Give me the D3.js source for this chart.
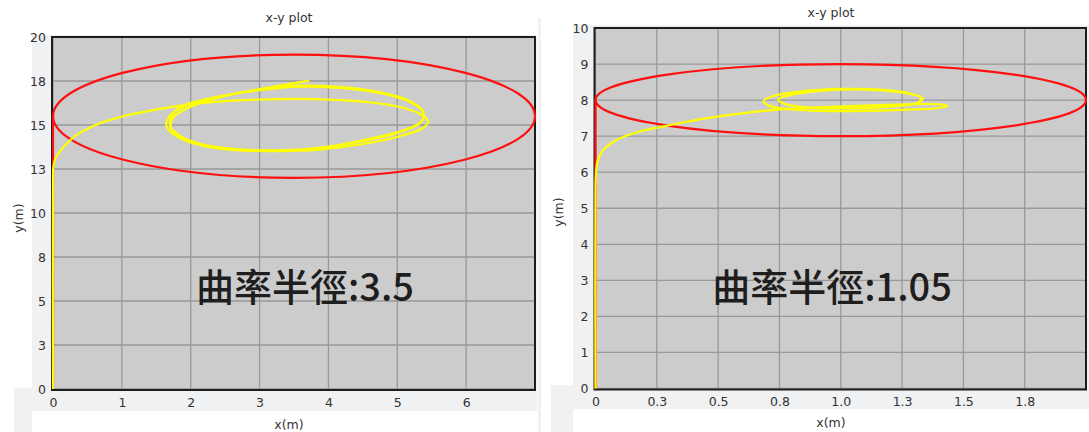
<!DOCTYPE html>
<html>
<head>
<meta charset="utf-8">
<script src="https://cdn.jsdelivr.net/npm/d3@7"></script>
<style>
  html, body { margin: 0; padding: 0; background: #ffffff; }
  svg { display: block; }
  .tick text { font-family: "DejaVu Sans", Verdana, sans-serif; font-size: 12.5px; fill: #333; }
</style>
</head>
<body>
<svg id="chart" width="1089" height="432"></svg>
<script>
// ---------------- data ----------------
const chartTitle = "x-y plot";
const xAxisLabel = "x(m)";
const yAxisLabel = "y(m)";
const annotations = ["曲率半徑:3.5", "曲率半徑:1.05"];

// left panel (radius of curvature 3.5)
const leftXDomain = [0, 7];
const leftYDomain = [0, 20];
const leftXTicks = [0, 1, 2, 3, 4, 5, 6];
const leftXTickLabels = ["0", "1", "2", "3", "4", "5", "6"];
const leftYTicks = [0, 2.5, 5, 7.5, 10, 12.5, 15, 17.5, 20];
const leftYTickLabels = ["0", "3", "5", "8", "10", "13", "15", "18", "20"];
const leftRefLineX = [0, 0];
const leftRefLineY = [0, 15.5];
const leftRefCenter = [3.5, 15.5];
const leftRefRadius = 3.5;
const leftTrajX = [0, 0, 0.005, 0.03, 0.09, 0.2, 0.35, 0.68, 1.02, 1.42, 1.8, 2.3, 3.0, 3.8, 4.5, 5.0, 5.32, 5.45, 5.36, 5.02, 4.5, 3.9, 3.3, 2.7, 2.2, 1.82, 1.65, 1.69, 1.93, 2.4, 3.0, 3.6, 4.2, 4.8, 5.2, 5.38, 5.35, 5.1, 4.6, 4.0, 3.4, 2.8, 2.3, 1.9, 1.72, 1.74, 1.95, 2.35, 2.9, 3.5, 4.1, 4.7, 5.15, 5.37, 5.36, 5.1, 4.55, 3.9, 3.3, 2.7, 2.2, 1.86, 1.7, 1.73, 1.86, 2.2, 2.9, 3.72];
const leftTrajY = [0, 12.0, 12.6, 13.05, 13.45, 13.95, 14.45, 15.1, 15.5, 15.82, 16.07, 16.3, 16.45, 16.47, 16.33, 16.05, 15.65, 15.2, 14.8, 14.35, 13.92, 13.62, 13.52, 13.56, 13.8, 14.3, 14.9, 15.5, 16.1, 16.6, 16.98, 17.18, 17.1, 16.78, 16.28, 15.72, 15.2, 14.72, 14.22, 13.78, 13.57, 13.57, 13.77, 14.22, 14.8, 15.4, 15.95, 16.5, 16.95, 17.22, 17.18, 16.9, 16.42, 15.82, 15.22, 14.67, 14.12, 13.72, 13.56, 13.62, 13.87, 14.35, 14.95, 15.55, 16.05, 16.45, 16.97, 17.52];

// right panel (radius of curvature 1.05)
const rightXDomain = [0, 2];
const rightYDomain = [0, 10];
const rightXTicks = [0, 0.25, 0.5, 0.75, 1.0, 1.25, 1.5, 1.75];
const rightXTickLabels = ["0", "0.3", "0.5", "0.8", "1.0", "1.3", "1.5", "1.8"];
const rightYTicks = [0, 1, 2, 3, 4, 5, 6, 7, 8, 9, 10];
const rightYTickLabels = ["0", "1", "2", "3", "4", "5", "6", "7", "8", "9", "10"];
const rightRefLineX = [0, 0];
const rightRefLineY = [0, 8];
const rightRefCenter = [1.0, 8.0];
const rightRefRadius = 1.0;
const rightTrajX = [0, 0, 0.002, 0.008, 0.03, 0.088, 0.18, 0.305, 0.455, 0.604, 0.767, 0.903, 1.066, 1.27, 1.40, 1.435, 1.40, 1.3, 1.1, 0.92, 0.8, 0.71, 0.685, 0.72, 0.84, 1.0, 1.16, 1.28, 1.335, 1.3, 1.16, 1.0, 0.86, 0.77, 0.745, 0.8, 0.94, 1.1, 1.24, 1.325, 1.32, 1.22];
const rightTrajY = [0, 5.5, 5.95, 6.3, 6.6, 6.9, 7.13, 7.31, 7.5, 7.64, 7.75, 7.8, 7.84, 7.88, 7.885, 7.84, 7.78, 7.74, 7.7, 7.7, 7.74, 7.84, 7.97, 8.1, 8.24, 8.31, 8.29, 8.19, 8.04, 7.9, 7.8, 7.77, 7.8, 7.9, 8.02, 8.15, 8.27, 8.29, 8.22, 8.08, 7.95, 7.85];

// ---------------- drawing ----------------
const svg = d3.select("#chart");
const PANEL_BG = "#f0f1f3";

// page background pieces
svg.append("rect").attr("x", 32).attr("y", 35).attr("width", 505).attr("height", 376).attr("fill", PANEL_BG);
svg.append("rect").attr("x", 14).attr("y", 388).attr("width", 18).attr("height", 44).attr("fill", PANEL_BG);
svg.append("rect").attr("x", 538).attr("y", 18).attr("width", 3).attr("height", 414).attr("fill", PANEL_BG);
svg.append("rect").attr("x", 573).attr("y", 25).attr("width", 516).attr("height", 384).attr("fill", PANEL_BG);
svg.append("rect").attr("x", 551).attr("y", 385).attr("width", 22).attr("height", 47).attr("fill", PANEL_BG);

function drawPanel(cfg) {
  const x = d3.scaleLinear().domain(cfg.xDomain).range([cfg.left, cfg.right]);
  const y = d3.scaleLinear().domain(cfg.yDomain).range([cfg.bottom, cfg.top]);
  const g = svg.append("g");

  // plot area
  g.append("rect")
    .attr("x", cfg.left - 1).attr("y", cfg.top)
    .attr("width", cfg.right - cfg.left + 1).attr("height", cfg.bottom - cfg.top + 1)
    .attr("fill", "#cccccc");

  // grid
  g.selectAll(".vgrid").data(cfg.xTicks).enter().append("line")
    .attr("x1", d => x(d)).attr("x2", d => x(d))
    .attr("y1", cfg.top).attr("y2", cfg.bottom)
    .attr("stroke", "#999999").attr("stroke-width", 1.3);
  g.selectAll(".hgrid").data(cfg.yTicks).enter().append("line")
    .attr("x1", cfg.left).attr("x2", cfg.right)
    .attr("y1", d => y(d)).attr("y2", d => y(d))
    .attr("stroke", "#999999").attr("stroke-width", 1.3);

  // frame
  g.append("rect")
    .attr("x", cfg.left - 1).attr("y", cfg.top)
    .attr("width", cfg.right - cfg.left + 1).attr("height", cfg.bottom - cfg.top + 1)
    .attr("fill", "none").attr("stroke", "#1c1c1c").attr("stroke-width", 2);

  // axes
  const xAxis = d3.axisBottom(x).tickValues(cfg.xTicks)
    .tickFormat((d, i) => cfg.xLabels[i]).tickSize(0).tickPadding(8);
  g.append("g").attr("transform", `translate(0,${cfg.bottom + 1})`).call(xAxis)
    .call(a => a.select(".domain").remove());
  const yAxis = d3.axisLeft(y).tickValues(cfg.yTicks)
    .tickFormat((d, i) => cfg.yLabels[i]).tickSize(0).tickPadding(6);
  g.append("g").attr("transform", `translate(${cfg.left - 1},0)`).call(yAxis)
    .call(a => a.select(".domain").remove());

  // reference path (red)
  const line = d3.line().x(d => x(d[0])).y(d => y(d[1]));
  const refPts = cfg.refX.map((v, i) => [v, cfg.refY[i]]);
  g.append("path").attr("d", line(refPts))
    .attr("fill", "none").attr("stroke", "#ff1010").attr("stroke-width", 2.2);
  g.append("ellipse")
    .attr("cx", x(cfg.refCenter[0])).attr("cy", y(cfg.refCenter[1]))
    .attr("rx", x(cfg.refCenter[0] + cfg.refRadius) - x(cfg.refCenter[0]))
    .attr("ry", y(cfg.refCenter[1]) - y(cfg.refCenter[1] + cfg.refRadius))
    .attr("fill", "none").attr("stroke", "#ff1010").attr("stroke-width", 2.2);

  // trajectory (yellow)
  const traj = cfg.trajX.map((v, i) => [v, cfg.trajY[i]]);
  const curve = d3.line().x(d => x(d[0])).y(d => y(d[1])).curve(d3.curveCatmullRom.alpha(0.5));
  g.append("path").attr("d", curve(traj))
    .attr("fill", "none").attr("stroke", "#ffff00").attr("stroke-width", 2.2)
    .attr("stroke-linejoin", "round");

  // titles
  g.append("text").attr("x", cfg.titleX).attr("y", cfg.titleY)
    .attr("text-anchor", "middle").attr("font-family", "DejaVu Sans, Verdana, sans-serif")
    .attr("font-size", 12.5).attr("fill", "#333").text(chartTitle);
  g.append("text").attr("x", cfg.titleX).attr("y", cfg.xLabelY)
    .attr("text-anchor", "middle").attr("font-family", "DejaVu Sans, Verdana, sans-serif")
    .attr("font-size", 12.5).attr("fill", "#333").text(xAxisLabel);
  g.append("text")
    .attr("transform", `translate(${cfg.yLabelX},${cfg.yLabelY}) rotate(-90)`)
    .attr("text-anchor", "middle").attr("font-family", "DejaVu Sans, Verdana, sans-serif")
    .attr("font-size", 12.5).attr("fill", "#333").text(yAxisLabel);

  // annotation
  g.append("text").attr("x", cfg.annX).attr("y", 301)
    .attr("text-anchor", "middle")
    .attr("font-family", "Noto Sans CJK TC, Noto Sans CJK SC, sans-serif")
    .attr("font-weight", 500)
    .attr("font-size", 38).attr("fill", "#1e1e1e").text(cfg.annotation);
}

drawPanel({
  left: 53, right: 535, top: 37, bottom: 389,
  xDomain: leftXDomain, yDomain: leftYDomain,
  xTicks: leftXTicks, xLabels: leftXTickLabels,
  yTicks: leftYTicks, yLabels: leftYTickLabels,
  refX: leftRefLineX, refY: leftRefLineY, refCenter: leftRefCenter, refRadius: leftRefRadius,
  trajX: leftTrajX, trajY: leftTrajY,
  titleX: 289, titleY: 22, xLabelY: 429, yLabelX: 23, yLabelY: 218,
  annX: 305, annotation: annotations[0]
});

drawPanel({
  left: 595.5, right: 1086, top: 28, bottom: 388.5,
  xDomain: rightXDomain, yDomain: rightYDomain,
  xTicks: rightXTicks, xLabels: rightXTickLabels,
  yTicks: rightYTicks, yLabels: rightYTickLabels,
  refX: rightRefLineX, refY: rightRefLineY, refCenter: rightRefCenter, refRadius: rightRefRadius,
  trajX: rightTrajX, trajY: rightTrajY,
  titleX: 831, titleY: 17, xLabelY: 427, yLabelX: 563, yLabelY: 212,
  annX: 832, annotation: annotations[1]
});
</script>
</body>
</html>
